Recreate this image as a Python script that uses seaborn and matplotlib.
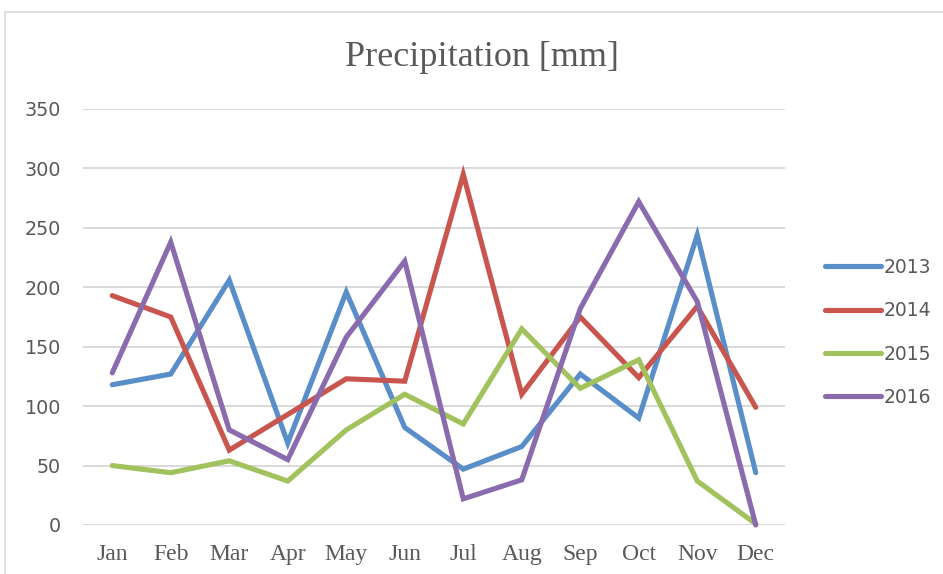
import pandas as pd
import matplotlib.pyplot as plt
import matplotlib.lines as mlines
import seaborn as sns

# Monthly precipitation values (mm)
months = ['Jan', 'Feb', 'Mar', 'Apr', 'May', 'Jun', 'Jul', 'Aug', 'Sep', 'Oct', 'Nov', 'Dec']
p2013 = [118, 127, 206, 69, 196, 82, 47, 66, 127, 90, 244, 44]
p2014 = [193, 175, 63, 93, 123, 121, 295, 110, 175, 124, 184, 99]
p2015 = [50, 44, 54, 37, 80, 110, 85, 165, 115, 139, 37, 1]
p2016 = [128, 238, 80, 55, 158, 222, 22, 38, 182, 272, 188, 0]
years = ['2013', '2014', '2015', '2016']

palette = {'2013': '#5a8ec8', '2014': '#c9554f', '2015': '#a1c25d', '2016': '#8a6bae'}

# Long-form table for seaborn
rows = []
for year, vals in zip(years, [p2013, p2014, p2015, p2016]):
    for i, v in enumerate(vals):
        rows.append({'Month': i, 'Year': year, 'Precip': v})
df = pd.DataFrame(rows)

sns.set_style('white')
plt.rcParams['font.family'] = ['DejaVu Sans']

W, H = 943, 574
fig = plt.figure(figsize=(W / 100, H / 100), dpi=100)
ax = fig.add_axes([83 / W, 1 - 525 / H, (785 - 83) / W, (525 - 109) / H])

sns.lineplot(data=df, x='Month', y='Precip', hue='Year', palette=palette,
             linewidth=3.7, ax=ax, legend=False, clip_on=False, zorder=3)
for line in ax.get_lines():
    line.set_solid_capstyle('round')
    line.set_solid_joinstyle('miter')

ax.set_xlim(-0.5, 11.5)
ax.set_ylim(0, 350)
ax.set_yticks(range(0, 351, 50))
ax.set_xticks(range(12))
ax.set_xticklabels(months, family='Liberation Serif', fontsize=17, color='#595959')
ax.tick_params(axis='y', labelsize=13.8, labelcolor='#595959', length=0, pad=16)
ax.tick_params(axis='x', length=0, pad=14)
ax.yaxis.grid(True, color='#d9d9d9', linewidth=1.4)
ax.set_axisbelow(True)
for s in ax.spines.values():
    s.set_visible(False)
ax.set_xlabel('')
ax.set_ylabel('')

fig.text(482 / W, 1 - 57 / H, 'Precipitation [mm]', family='Liberation Serif',
         fontsize=26, color='#595959', ha='center', va='center')

handles = [mlines.Line2D([], [], color=palette[y], linewidth=3.7, solid_capstyle='round') for y in years]
fig.legend(handles, years, loc='upper left', bbox_to_anchor=(808 / W, 1 - 241 / H),
           frameon=False, fontsize=13.5, handlelength=3.0, handletextpad=0.15,
           labelspacing=1.3, labelcolor='#595959')

# light outer frame like the chart area border
fig.add_artist(mlines.Line2D([5 / W, 5 / W, 1], [0, 1 - 12 / H, 1 - 12 / H],
                             transform=fig.transFigure, color='#d9d9d9', linewidth=1.2))

fig.savefig('out.png', dpi=100)
